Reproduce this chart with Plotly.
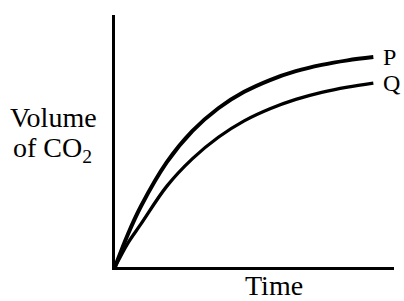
import plotly.graph_objects as go

time_vals = [0, 0.5, 1, 2, 3, 4, 5, 6, 7, 8, 9, 10]
vol_p = [0, 1.3, 2.4, 4.15, 5.4, 6.3, 6.95, 7.42, 7.77, 8.02, 8.2, 8.33]
vol_q = [0, 0.95, 1.7, 3.2, 4.3, 5.15, 5.8, 6.28, 6.65, 6.93, 7.14, 7.3]
labels = ["P", "Q"]

FONT = "Liberation Serif"
FS = 28

fig = go.Figure()
fig.add_trace(go.Scatter(x=time_vals, y=vol_p, mode="lines",
                         line=dict(color="black", width=4, shape="spline", smoothing=1.0),
                         showlegend=False, hoverinfo="skip"))
fig.add_trace(go.Scatter(x=time_vals, y=vol_q, mode="lines",
                         line=dict(color="black", width=3.3, shape="spline", smoothing=1.0),
                         showlegend=False, hoverinfo="skip"))

for lab, ys in zip(labels, [vol_p, vol_q]):
    fig.add_annotation(x=time_vals[-1], y=ys[-1], text=lab, showarrow=False,
                       xanchor="left", yanchor="middle", xshift=8,
                       font=dict(family=FONT, size=24, color="black"))

fig.add_annotation(xref="paper", yref="paper", x=-0.222, y=0.595, text="Volume",
                   showarrow=False, xanchor="center", yanchor="middle",
                   font=dict(family=FONT, size=FS, color="black"))
fig.add_annotation(xref="paper", yref="paper", x=-0.225, y=0.465, text="of CO<sub>2</sub>",
                   showarrow=False, xanchor="center", yanchor="middle",
                   font=dict(family=FONT, size=FS, color="black"))
fig.add_annotation(xref="paper", yref="paper", x=0.57, y=-0.075, text="Time",
                   showarrow=False, xanchor="center", yanchor="middle",
                   font=dict(family=FONT, size=FS, color="black"))

axis_common = dict(showline=True, linecolor="black", linewidth=2.5, showgrid=False,
                   zeroline=False, showticklabels=False, ticks="", fixedrange=True)
fig.update_xaxes(range=[0, 10.8], **axis_common)
fig.update_yaxes(range=[0, 10], **axis_common)

fig.update_layout(width=404, height=301, margin=dict(l=115, r=10, t=15, b=34),
                  paper_bgcolor="white", plot_bgcolor="white")

fig.write_html("out.html", config={"responsive": False, "displayModeBar": False},
               post_script="document.body.style.margin='0';document.body.style.padding='0';"
                           "document.body.style.overflow='hidden';")
